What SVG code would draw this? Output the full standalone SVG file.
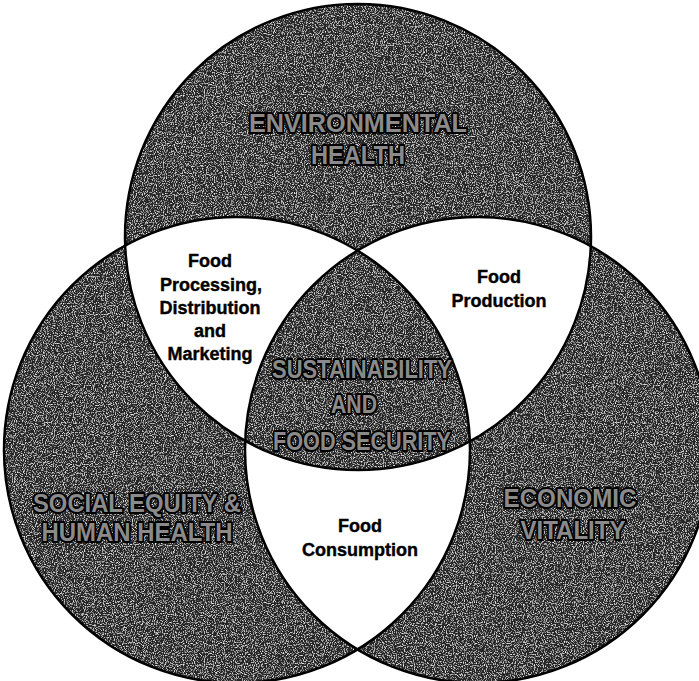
<svg xmlns="http://www.w3.org/2000/svg" width="699" height="681" viewBox="0 0 699 681">
<style>
.gray{fill:#262626}
.white{fill:#ffffff}
.edge{fill:none;stroke:#000;stroke-width:2.5}
.big{font-family:"Liberation Sans",Arial,sans-serif;font-weight:bold;font-size:26px;fill:#8a8a8a;stroke:#000;stroke-width:4;paint-order:stroke;stroke-linejoin:round;text-anchor:middle}
.small{font-family:"Liberation Sans",Arial,sans-serif;font-weight:bold;font-size:18px;fill:#000;stroke:#000;stroke-width:0.4;text-anchor:middle}
</style>
<defs>
<clipPath id="cT"><circle cx="358" cy="237" r="233"/></clipPath>
<clipPath id="cL"><circle cx="237" cy="450" r="233"/></clipPath>
<clipPath id="cR"><circle cx="478" cy="450" r="233"/></clipPath>
<filter id="grain" filterUnits="userSpaceOnUse" x="0" y="0" width="699" height="681">
<feTurbulence type="fractalNoise" baseFrequency="0.9" numOctaves="2" seed="3" result="n"/>
<feColorMatrix in="n" type="matrix" values="0 0 0 0 0.85  0 0 0 0 0.85  0 0 0 0 0.85  3.2 0 0 0 -1.6" result="specks"/>
<feComposite in="specks" in2="SourceGraphic" operator="in" result="s2"/>
<feMerge><feMergeNode in="SourceGraphic"/><feMergeNode in="s2"/></feMerge>
</filter>
</defs>
<rect width="699" height="681" fill="#ffffff"/>
<g id="node-environmental-health">
<circle class="gray" cx="358" cy="237" r="233" filter="url(#grain)"/>
</g>
<g id="node-social-equity">
<circle class="gray" cx="237" cy="450" r="233" filter="url(#grain)"/>
</g>
<g id="node-economic-vitality">
<circle class="gray" cx="478" cy="450" r="233" filter="url(#grain)"/>
</g>
<g id="region-food-processing">
<g clip-path="url(#cT)"><circle class="white" cx="237" cy="450" r="233"/></g>
</g>
<g id="region-food-production">
<g clip-path="url(#cT)"><circle class="white" cx="478" cy="450" r="233"/></g>
</g>
<g id="region-food-consumption">
<g clip-path="url(#cL)"><circle class="white" cx="478" cy="450" r="233"/></g>
</g>
<g id="region-sustainability">
<g clip-path="url(#cT)"><g clip-path="url(#cL)"><circle class="gray" cx="478" cy="450" r="233" filter="url(#grain)"/></g></g>
</g>
<g id="outlines">
<circle class="edge" cx="358" cy="237" r="233"/>
<circle class="edge" cx="237" cy="450" r="233"/>
<circle class="edge" cx="478" cy="450" r="233"/>
</g>
<g id="connectors"/>
<g id="labels">
<text class="big" x="358" y="132" textLength="218" lengthAdjust="spacingAndGlyphs">ENVIRONMENTAL</text>
<text class="big" x="358" y="164" textLength="94" lengthAdjust="spacingAndGlyphs">HEALTH</text>
<text class="big" x="137" y="512" textLength="208" lengthAdjust="spacingAndGlyphs">SOCIAL EQUITY &amp;</text>
<text class="big" x="137" y="541" textLength="191" lengthAdjust="spacingAndGlyphs">HUMAN HEALTH</text>
<text class="big" x="570" y="507" textLength="133" lengthAdjust="spacingAndGlyphs">ECONOMIC</text>
<text class="big" x="573" y="539" textLength="105" lengthAdjust="spacingAndGlyphs">VITALITY</text>
<text class="big" x="362" y="378" textLength="180" lengthAdjust="spacingAndGlyphs">SUSTAINABILITY</text>
<text class="big" x="354" y="413" textLength="46" lengthAdjust="spacingAndGlyphs">AND</text>
<text class="big" x="362" y="450" textLength="178" lengthAdjust="spacingAndGlyphs">FOOD SECURITY</text>
<text class="small" x="210" y="267">Food</text>
<text class="small" x="211" y="291">Processing,</text>
<text class="small" x="210" y="314">Distribution</text>
<text class="small" x="210" y="337">and</text>
<text class="small" x="210" y="360">Marketing</text>
<text class="small" x="499" y="283">Food</text>
<text class="small" x="499" y="307">Production</text>
<text class="small" x="360" y="532">Food</text>
<text class="small" x="360" y="556">Consumption</text>
</g>
</svg>
